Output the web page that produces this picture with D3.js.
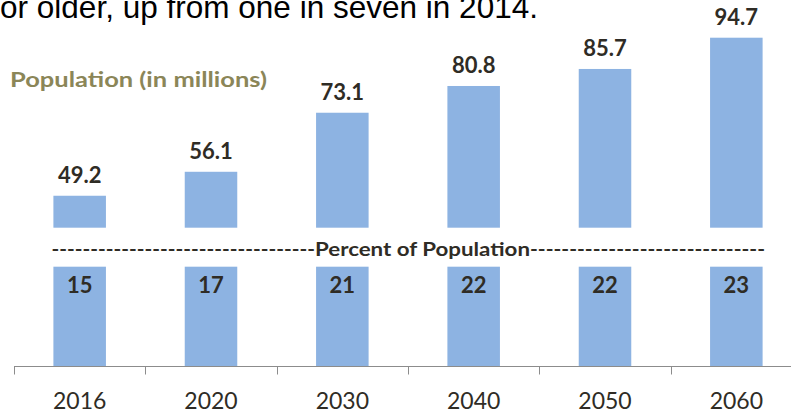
<!DOCTYPE html>
<html>
<head>
<meta charset="utf-8">
<script src="https://cdn.jsdelivr.net/npm/d3@7/dist/d3.min.js"></script>
<style>
  html, body { margin: 0; padding: 0; background: #fff; overflow: hidden; }
  svg { display: block; }
</style>
</head>
<body>
<svg id="chart" width="791" height="415"></svg>
<script>
// Projected older population by year
const years = ["2016", "2020", "2030", "2040", "2050", "2060"];
const populationMillions = [49.2, 56.1, 73.1, 80.8, 85.7, 94.7];
const percentOfPopulation = [15, 17, 21, 22, 22, 23];

const headline = "or older, up from one in seven in 2014.";
const populationTitle = "Population (in millions)";
const percentTitle = "Percent of Population";

const W = 791, H = 415;
const barColor = "#8db3e2";
const textColor = "#2f2c25";
const font = "Lato, 'Open Sans', sans-serif";

const svg = d3.select("#chart");

const x = d3.scaleBand()
  .domain(years)
  .range([14, 802])
  .paddingInner(0.6)
  .paddingOuter(0.3);

// Upper panel: population, axis broken at 40 million
const yPop = d3.scaleLinear().domain([40, 100]).range([227.7, 19.3]);
// Lower panel: percent bars, clamped so every bar fills the strip
const yPct = d3.scaleLinear().domain([0, 10]).range([366, 266.7]).clamp(true);

// Headline sentence (continues from text above the chart)
svg.append("text")
  .attr("x", 0).attr("y", 17.5)
  .attr("font-family", "'Liberation Sans', Arial, sans-serif")
  .attr("font-size", 30.5)
  .attr("textLength", 538)
  .attr("lengthAdjust", "spacingAndGlyphs")
  .attr("fill", "#000")
  .text(headline);

// Population title
svg.append("text")
  .attr("x", 10).attr("y", 86.5)
  .attr("font-family", font)
  .attr("font-weight", 700)
  .attr("font-size", 21.5)
  .attr("textLength", 257)
  .attr("lengthAdjust", "spacingAndGlyphs")
  .attr("fill", "#8b8658")
  .text(populationTitle);

const data = years.map((y, i) => ({ year: y, pop: populationMillions[i], pct: percentOfPopulation[i] }));

// Population bars
svg.append("g").selectAll("rect")
  .data(data)
  .join("rect")
  .attr("x", d => x(d.year))
  .attr("width", x.bandwidth())
  .attr("y", d => yPop(d.pop))
  .attr("height", d => yPop(40) - yPop(d.pop))
  .attr("fill", barColor);

svg.append("g").selectAll("text")
  .data(data)
  .join("text")
  .attr("x", d => x(d.year) + x.bandwidth() / 2)
  .attr("y", d => yPop(d.pop) - 12.5)
  .attr("text-anchor", "middle")
  .attr("font-family", font)
  .attr("font-weight", 700)
  .attr("font-size", 22)
  .attr("fill", textColor)
  .text(d => d.pop.toFixed(1));

// Divider: hyphen rules either side of the percent title
const divY = 255.5;
const titleX0 = 315, titleX1 = 530;
const divider = svg.append("g")
  .attr("font-family", font)
  .attr("font-weight", 700)
  .attr("font-size", 19.5)
  .attr("fill", textColor);

divider.append("text")
  .attr("x", 51.5).attr("y", divY)
  .attr("textLength", titleX0 - 51.5)
  .attr("lengthAdjust", "spacingAndGlyphs")
  .text("-".repeat(34));

divider.append("text")
  .attr("x", titleX0).attr("y", divY)
  .attr("textLength", titleX1 - titleX0)
  .attr("lengthAdjust", "spacingAndGlyphs")
  .text(percentTitle);

divider.append("text")
  .attr("x", titleX1).attr("y", divY)
  .attr("textLength", 765 - titleX1)
  .attr("lengthAdjust", "spacingAndGlyphs")
  .text("-".repeat(30));

// Percent bars
svg.append("g").selectAll("rect")
  .data(data)
  .join("rect")
  .attr("x", d => x(d.year))
  .attr("width", x.bandwidth())
  .attr("y", d => yPct(d.pct))
  .attr("height", d => yPct(0) - yPct(d.pct))
  .attr("fill", barColor);

svg.append("g").selectAll("text")
  .data(data)
  .join("text")
  .attr("x", d => x(d.year) + x.bandwidth() / 2)
  .attr("y", 292.5)
  .attr("text-anchor", "middle")
  .attr("font-family", font)
  .attr("font-weight", 700)
  .attr("font-size", 22)
  .attr("fill", textColor)
  .text(d => d.pct);

// Category axis with ticks between bars
const axisY = 366.5;
const axis = svg.append("g").attr("stroke", "#8c8c8c").attr("stroke-width", 1);
axis.append("line")
  .attr("x1", x.range()[0]).attr("x2", x.range()[1])
  .attr("y1", axisY).attr("y2", axisY);

const boundaries = years.map(y => x(y) - x.step() * x.paddingInner() / 2)
  .concat([x.range()[1]]);
axis.selectAll("line.tick")
  .data(boundaries)
  .join("line")
  .attr("class", "tick")
  .attr("x1", d => Math.round(d) + 0.5).attr("x2", d => Math.round(d) + 0.5)
  .attr("y1", axisY).attr("y2", axisY + 8);

svg.append("g").selectAll("text")
  .data(years)
  .join("text")
  .attr("x", d => x(d) + x.bandwidth() / 2)
  .attr("y", 409)
  .attr("text-anchor", "middle")
  .attr("font-family", font)
  .attr("font-size", 23)
  .attr("fill", textColor)
  .text(d => d);
</script>
</body>
</html>
